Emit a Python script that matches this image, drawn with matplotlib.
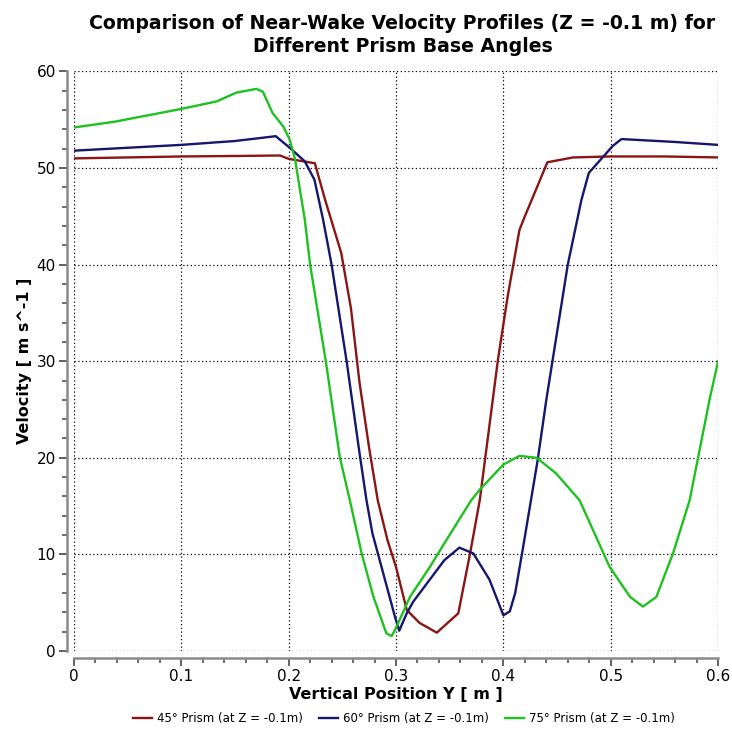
import matplotlib.pyplot as plt
from matplotlib.ticker import MultipleLocator

# Profile data (Y position [m], velocity [m/s])
y_45 = [0, 0.05, 0.1, 0.15, 0.192, 0.2, 0.2244, 0.234, 0.249, 0.258, 0.266, 0.275,
        0.283, 0.292, 0.30, 0.31, 0.322, 0.338, 0.358, 0.369, 0.378, 0.395, 0.404,
        0.415, 0.42, 0.441, 0.465, 0.5, 0.55, 0.6]
v_45 = [51.0, 51.1, 51.2, 51.25, 51.3, 50.95, 50.5, 46.7, 41.2, 35.5, 27.8, 21.0,
        15.6, 11.5, 8.7, 4.25, 2.9, 1.9, 3.9, 10.1, 15.6, 30.2, 36.7,
        43.6, 45.0, 50.6, 51.1, 51.2, 51.2, 51.1]

y_60 = [0, 0.05, 0.1, 0.15, 0.188, 0.201, 0.215, 0.224, 0.232, 0.24, 0.254, 0.266,
        0.2725, 0.278, 0.299, 0.303, 0.31, 0.316, 0.345, 0.359, 0.372, 0.387, 0.4,
        0.406, 0.411, 0.418, 0.432, 0.44, 0.45, 0.46, 0.4727, 0.4796, 0.502, 0.51,
        0.527, 0.56, 0.6]
v_60 = [51.8, 52.1, 52.4, 52.8, 53.3, 52.1, 50.7, 48.8, 44.7, 40.0, 30.0, 20.5,
        15.6, 12.2, 3.55, 2.1, 3.9, 5.1, 9.4, 10.7, 10.1, 7.4, 3.7,
        4.1, 6.0, 10.5, 19.8, 26.0, 33.0, 40.0, 46.7, 49.5, 52.3, 53.0,
        52.9, 52.7, 52.4]

y_75 = [0, 0.038, 0.099, 0.133, 0.151, 0.17, 0.176, 0.185, 0.195, 0.201, 0.206,
        0.21, 0.215, 0.22, 0.2346, 0.2476, 0.257, 0.268, 0.279, 0.291, 0.296, 0.30,
        0.313, 0.3315, 0.347, 0.37, 0.378, 0.4, 0.415, 0.431, 0.449, 0.471, 0.499,
        0.518, 0.53, 0.5425, 0.558, 0.5735, 0.592, 0.6]
v_75 = [54.2, 54.8, 56.1, 56.9, 57.8, 58.2, 57.9, 55.7, 54.3, 52.95, 50.9,
        48.1, 44.7, 40.0, 30.0, 20.1, 15.6, 10.1, 5.6, 1.83, 1.55, 2.4,
        5.6, 8.7, 11.5, 15.6, 16.7, 19.3, 20.2, 20.0, 18.4, 15.6, 8.7,
        5.6, 4.6, 5.6, 10.1, 15.6, 26.0, 30.0]

labels = ['45° Prism (at Z = -0.1m)', '60° Prism (at Z = -0.1m)', '75° Prism (at Z = -0.1m)']
colors = ['#8b1414', '#16166e', '#1ec21e']

fig = plt.figure(figsize=(7.32, 7.36), dpi=100)
ax = fig.add_axes([0.101, 0.1155, 0.880, 0.7874])

for ys, vs, lab, c in zip([y_45, y_60, y_75], [v_45, v_60, v_75], labels, colors):
    ax.plot(ys, vs, color=c, lw=1.7, label=lab)

ax.set_xlim(0, 0.6)
ax.set_ylim(0, 60)
ax.xaxis.set_major_locator(MultipleLocator(0.1))
ax.xaxis.set_minor_locator(MultipleLocator(0.02))
ax.yaxis.set_major_locator(MultipleLocator(10))
ax.yaxis.set_minor_locator(MultipleLocator(2))
ax.set_xticks([0, 0.1, 0.2, 0.3, 0.4, 0.5, 0.6])
ax.set_xticklabels(['0', '0.1', '0.2', '0.3', '0.4', '0.5', '0.6'])

ax.grid(True, which='major', color='black', linestyle=(0, (1, 2)), lw=0.9)
for s in ['top', 'right']:
    ax.spines[s].set_visible(False)
for s in ['left', 'bottom']:
    ax.spines[s].set_position(('outward', 5))
    ax.spines[s].set_color('#8a8a8a')
    ax.spines[s].set_linewidth(1.8)
ax.tick_params(which='major', length=6, width=1.3, color='#555555', labelsize=11, pad=2)
ax.tick_params(which='minor', length=3.5, width=1.2, color='#555555')

ax.set_xlabel('Vertical Position Y [ m ]', fontsize=11.5, fontweight='bold', labelpad=2)
ax.set_ylabel('Velocity [ m s^-1 ]', fontsize=11.5, fontweight='bold', labelpad=3)
ax.set_title('Comparison of Near-Wake Velocity Profiles (Z = -0.1 m) for\nDifferent Prism Base Angles',
             fontsize=13.6, fontweight='bold', pad=14, x=0.51, linespacing=1.25)

fig.legend(loc='lower center', bbox_to_anchor=(0.552, 0.0), ncol=3, frameon=False,
           fontsize=8.5, handlelength=1.6, handletextpad=0.4, columnspacing=1.4)

fig.savefig('out.png', dpi=100)
